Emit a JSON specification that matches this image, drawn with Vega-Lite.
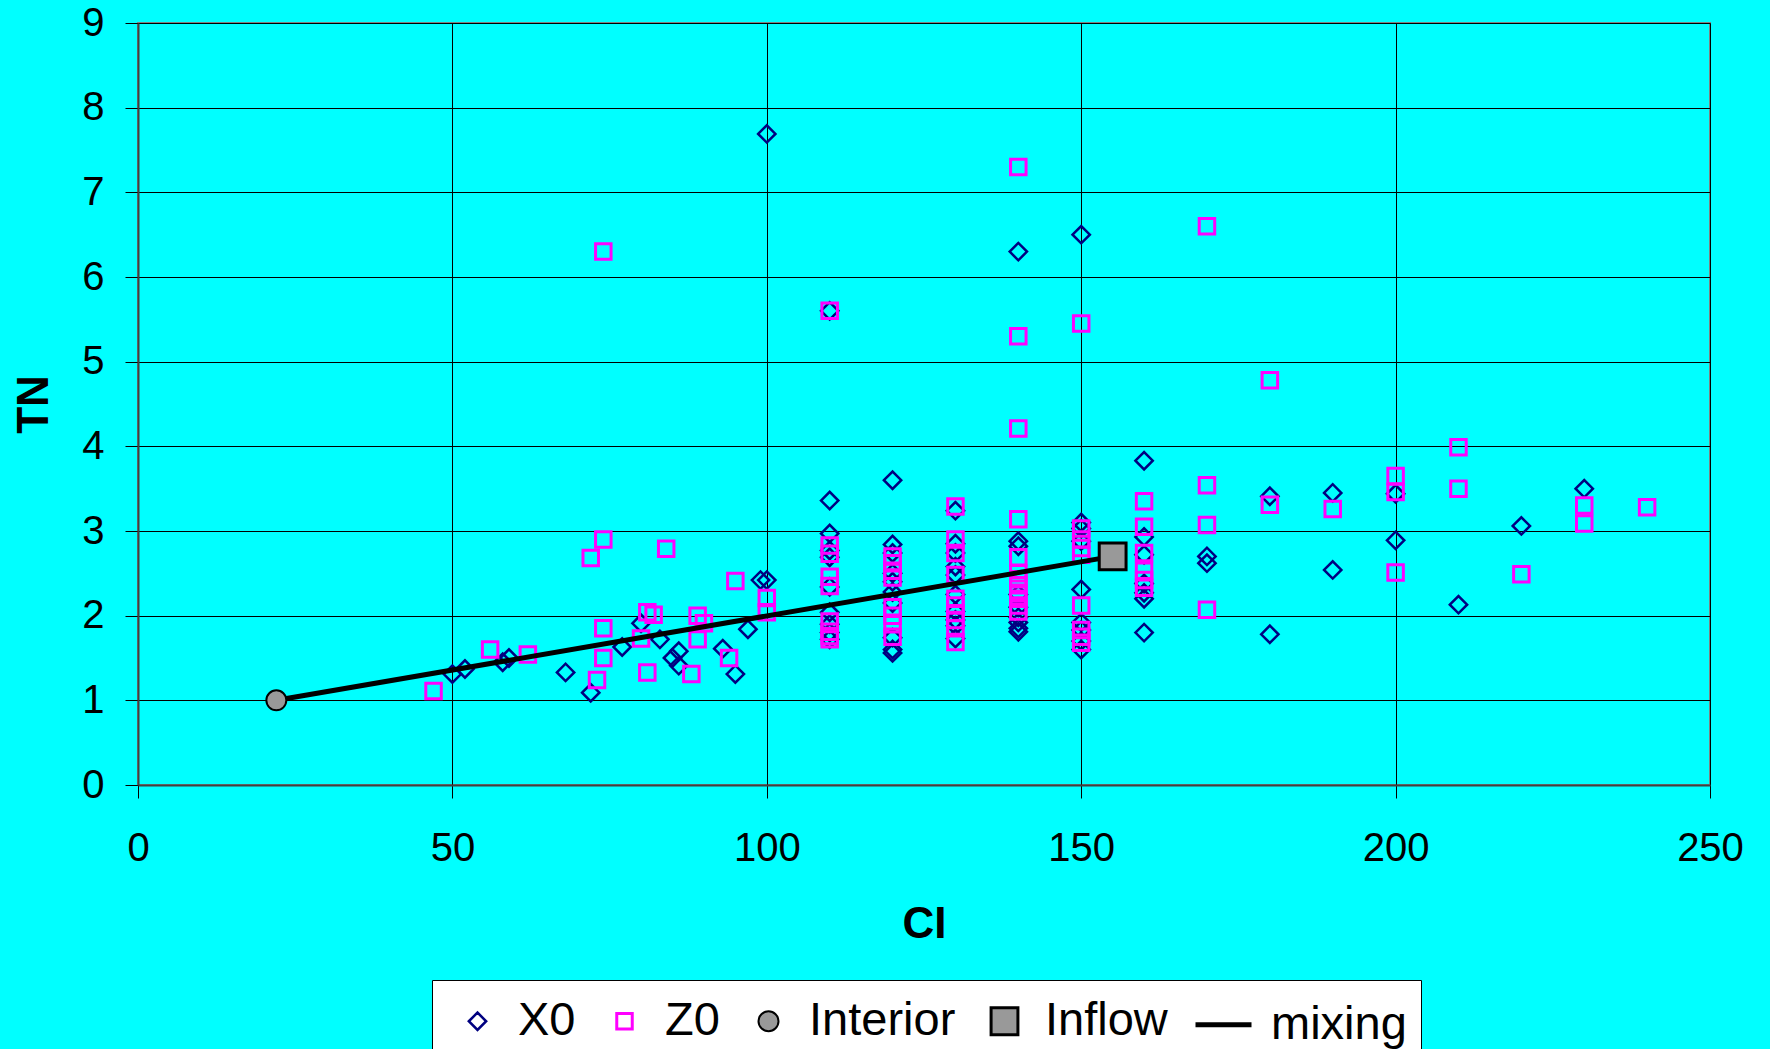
{
  "$schema": "https://vega.github.io/schema/vega-lite/v6.json",
  "autosize": {"type": "none"},
  "padding": {"left": 138, "top": 23, "right": 60, "bottom": 264},
  "width": 1572,
  "height": 762,
  "background": "#00FFFF",
  "config": {
    "font": "Liberation Sans",
    "view": {"fill": "#00FFFF", "stroke": "#808080", "strokeWidth": 2},
    "axis": {
      "grid": true, "gridColor": "black", "gridWidth": 1, "gridOpacity": 1,
      "tickColor": "black", "tickSize": 13, "tickWidth": 1,
      "domainColor": "#404040", "domainWidth": 2,
      "labelFlush": false, "labelOverlap": false, "labelBound": false,
      "labelFont": "Liberation Sans", "labelFontSize": 40, "labelColor": "black",
      "titleFont": "Liberation Sans", "titleFontSize": 44, "titleFontWeight": "bold", "titleColor": "black"
    }
  },
  "data": {"values": [
    {"x": 50, "y": 1.31, "series": "X0"}, {"x": 52, "y": 1.37, "series": "X0"}, {"x": 58, "y": 1.45, "series": "X0"}, {"x": 59, "y": 1.5, "series": "X0"},
    {"x": 68, "y": 1.33, "series": "X0"}, {"x": 72, "y": 1.09, "series": "X0"}, {"x": 77, "y": 1.63, "series": "X0"}, {"x": 80, "y": 1.91, "series": "X0"},
    {"x": 83, "y": 1.72, "series": "X0"}, {"x": 85, "y": 1.5, "series": "X0"}, {"x": 86, "y": 1.58, "series": "X0"}, {"x": 86, "y": 1.41, "series": "X0"},
    {"x": 93, "y": 1.61, "series": "X0"}, {"x": 95, "y": 1.31, "series": "X0"}, {"x": 97, "y": 1.84, "series": "X0"}, {"x": 99, "y": 2.42, "series": "X0"},
    {"x": 100, "y": 2.42, "series": "X0"}, {"x": 100, "y": 7.69, "series": "X0"},
    {"x": 110, "y": 5.6, "series": "X0"}, {"x": 110, "y": 3.36, "series": "X0"}, {"x": 110, "y": 2.97, "series": "X0"}, {"x": 110, "y": 2.77, "series": "X0"},
    {"x": 110, "y": 2.69, "series": "X0"}, {"x": 110, "y": 2.34, "series": "X0"}, {"x": 110, "y": 2.04, "series": "X0"}, {"x": 110, "y": 1.9, "series": "X0"},
    {"x": 110, "y": 1.8, "series": "X0"}, {"x": 110, "y": 1.72, "series": "X0"},
    {"x": 120, "y": 3.6, "series": "X0"}, {"x": 120, "y": 2.84, "series": "X0"}, {"x": 120, "y": 2.74, "series": "X0"}, {"x": 120, "y": 2.5, "series": "X0"},
    {"x": 120, "y": 2.4, "series": "X0"}, {"x": 120, "y": 2.28, "series": "X0"}, {"x": 120, "y": 2.15, "series": "X0"}, {"x": 120, "y": 1.74, "series": "X0"},
    {"x": 120, "y": 1.6, "series": "X0"}, {"x": 120, "y": 1.56, "series": "X0"},
    {"x": 130, "y": 3.24, "series": "X0"}, {"x": 130, "y": 2.85, "series": "X0"}, {"x": 130, "y": 2.74, "series": "X0"}, {"x": 130, "y": 2.58, "series": "X0"},
    {"x": 130, "y": 2.48, "series": "X0"}, {"x": 130, "y": 2.25, "series": "X0"}, {"x": 130, "y": 2.05, "series": "X0"}, {"x": 130, "y": 1.95, "series": "X0"},
    {"x": 130, "y": 1.88, "series": "X0"}, {"x": 130, "y": 1.73, "series": "X0"},
    {"x": 140, "y": 6.3, "series": "X0"}, {"x": 140, "y": 2.88, "series": "X0"}, {"x": 140, "y": 2.82, "series": "X0"}, {"x": 140, "y": 2.25, "series": "X0"},
    {"x": 140, "y": 2.1, "series": "X0"}, {"x": 140, "y": 1.98, "series": "X0"}, {"x": 140, "y": 1.92, "series": "X0"}, {"x": 140, "y": 1.85, "series": "X0"},
    {"x": 140, "y": 1.81, "series": "X0"},
    {"x": 150, "y": 6.5, "series": "X0"}, {"x": 150, "y": 3.1, "series": "X0"}, {"x": 150, "y": 3.03, "series": "X0"}, {"x": 150, "y": 2.88, "series": "X0"},
    {"x": 150, "y": 2.31, "series": "X0"}, {"x": 150, "y": 1.92, "series": "X0"}, {"x": 150, "y": 1.83, "series": "X0"}, {"x": 150, "y": 1.7, "series": "X0"},
    {"x": 150, "y": 1.6, "series": "X0"},
    {"x": 160, "y": 3.83, "series": "X0"}, {"x": 160, "y": 2.93, "series": "X0"}, {"x": 160, "y": 2.72, "series": "X0"}, {"x": 160, "y": 2.38, "series": "X0"},
    {"x": 160, "y": 2.27, "series": "X0"}, {"x": 160, "y": 2.2, "series": "X0"}, {"x": 160, "y": 1.8, "series": "X0"},
    {"x": 170, "y": 2.7, "series": "X0"}, {"x": 170, "y": 2.62, "series": "X0"}, {"x": 180, "y": 3.41, "series": "X0"}, {"x": 180, "y": 1.78, "series": "X0"},
    {"x": 190, "y": 3.45, "series": "X0"}, {"x": 190, "y": 2.54, "series": "X0"}, {"x": 200, "y": 3.44, "series": "X0"}, {"x": 200, "y": 2.89, "series": "X0"},
    {"x": 210, "y": 2.13, "series": "X0"}, {"x": 220, "y": 3.06, "series": "X0"}, {"x": 230, "y": 3.5, "series": "X0"},

    {"x": 47, "y": 1.11, "series": "Z0"}, {"x": 56, "y": 1.6, "series": "Z0"}, {"x": 62, "y": 1.54, "series": "Z0"}, {"x": 72, "y": 2.68, "series": "Z0"},
    {"x": 73, "y": 1.24, "series": "Z0"}, {"x": 74, "y": 6.3, "series": "Z0"}, {"x": 74, "y": 2.9, "series": "Z0"}, {"x": 74, "y": 1.85, "series": "Z0"},
    {"x": 74, "y": 1.5, "series": "Z0"}, {"x": 80, "y": 1.73, "series": "Z0"}, {"x": 81, "y": 2.04, "series": "Z0"}, {"x": 81, "y": 1.33, "series": "Z0"},
    {"x": 82, "y": 2.01, "series": "Z0"}, {"x": 84, "y": 2.79, "series": "Z0"}, {"x": 88, "y": 1.31, "series": "Z0"}, {"x": 89, "y": 2.0, "series": "Z0"},
    {"x": 89, "y": 1.72, "series": "Z0"}, {"x": 90, "y": 1.91, "series": "Z0"}, {"x": 94, "y": 1.5, "series": "Z0"}, {"x": 95, "y": 2.41, "series": "Z0"},
    {"x": 100, "y": 2.21, "series": "Z0"}, {"x": 100, "y": 2.04, "series": "Z0"},
    {"x": 110, "y": 5.6, "series": "Z0"}, {"x": 110, "y": 2.83, "series": "Z0"}, {"x": 110, "y": 2.73, "series": "Z0"}, {"x": 110, "y": 2.46, "series": "Z0"},
    {"x": 110, "y": 2.35, "series": "Z0"}, {"x": 110, "y": 1.93, "series": "Z0"}, {"x": 110, "y": 1.81, "series": "Z0"}, {"x": 110, "y": 1.76, "series": "Z0"},
    {"x": 110, "y": 1.72, "series": "Z0"},
    {"x": 120, "y": 2.7, "series": "Z0"}, {"x": 120, "y": 2.62, "series": "Z0"}, {"x": 120, "y": 2.53, "series": "Z0"}, {"x": 120, "y": 2.45, "series": "Z0"},
    {"x": 120, "y": 2.1, "series": "Z0"}, {"x": 120, "y": 2.0, "series": "Z0"}, {"x": 120, "y": 1.9, "series": "Z0"}, {"x": 120, "y": 1.75, "series": "Z0"},
    {"x": 130, "y": 3.29, "series": "Z0"}, {"x": 130, "y": 2.9, "series": "Z0"}, {"x": 130, "y": 2.74, "series": "Z0"}, {"x": 130, "y": 2.48, "series": "Z0"},
    {"x": 130, "y": 2.2, "series": "Z0"}, {"x": 130, "y": 2.12, "series": "Z0"}, {"x": 130, "y": 2.03, "series": "Z0"}, {"x": 130, "y": 1.95, "series": "Z0"},
    {"x": 130, "y": 1.85, "series": "Z0"}, {"x": 130, "y": 1.69, "series": "Z0"},
    {"x": 140, "y": 7.3, "series": "Z0"}, {"x": 140, "y": 5.3, "series": "Z0"}, {"x": 140, "y": 4.21, "series": "Z0"}, {"x": 140, "y": 3.14, "series": "Z0"},
    {"x": 140, "y": 2.69, "series": "Z0"}, {"x": 140, "y": 2.5, "series": "Z0"}, {"x": 140, "y": 2.43, "series": "Z0"}, {"x": 140, "y": 2.36, "series": "Z0"},
    {"x": 140, "y": 2.27, "series": "Z0"}, {"x": 140, "y": 2.2, "series": "Z0"}, {"x": 140, "y": 2.12, "series": "Z0"}, {"x": 140, "y": 2.05, "series": "Z0"},
    {"x": 150, "y": 5.45, "series": "Z0"}, {"x": 150, "y": 3.03, "series": "Z0"}, {"x": 150, "y": 2.9, "series": "Z0"}, {"x": 150, "y": 2.8, "series": "Z0"},
    {"x": 150, "y": 2.72, "series": "Z0"}, {"x": 150, "y": 2.12, "series": "Z0"}, {"x": 150, "y": 1.83, "series": "Z0"}, {"x": 150, "y": 1.75, "series": "Z0"},
    {"x": 150, "y": 1.68, "series": "Z0"},
    {"x": 160, "y": 3.35, "series": "Z0"}, {"x": 160, "y": 3.05, "series": "Z0"}, {"x": 160, "y": 2.74, "series": "Z0"}, {"x": 160, "y": 2.53, "series": "Z0"},
    {"x": 160, "y": 2.42, "series": "Z0"}, {"x": 160, "y": 2.33, "series": "Z0"},
    {"x": 170, "y": 6.6, "series": "Z0"}, {"x": 170, "y": 3.54, "series": "Z0"}, {"x": 170, "y": 3.07, "series": "Z0"}, {"x": 170, "y": 2.07, "series": "Z0"},
    {"x": 180, "y": 4.78, "series": "Z0"}, {"x": 180, "y": 3.31, "series": "Z0"}, {"x": 190, "y": 3.26, "series": "Z0"},
    {"x": 200, "y": 3.65, "series": "Z0"}, {"x": 200, "y": 3.46, "series": "Z0"}, {"x": 200, "y": 2.51, "series": "Z0"},
    {"x": 210, "y": 3.99, "series": "Z0"}, {"x": 210, "y": 3.5, "series": "Z0"}, {"x": 220, "y": 2.49, "series": "Z0"},
    {"x": 230, "y": 3.3, "series": "Z0"}, {"x": 230, "y": 3.09, "series": "Z0"}, {"x": 240, "y": 3.28, "series": "Z0"},

    {"x": 22, "y": 1.0, "series": "Interior"},
    {"x": 155, "y": 2.7, "series": "Inflow"},
    {"x": 22, "y": 1.0, "series": "mixing"},
    {"x": 155, "y": 2.7, "series": "mixing"}
  ]},
  "encoding": {
    "x": {"field": "x", "type": "quantitative",
      "scale": {"domain": [0, 250], "nice": false, "zero": false},
      "axis": {"values": [0, 50, 100, 150, 200, 250], "title": "CI", "labelPadding": 30,
        "titleX": 786, "titleY": 139, "titleBaseline": "middle", "titleAnchor": "middle"}},
    "y": {"field": "y", "type": "quantitative",
      "scale": {"domain": [0, 9], "nice": false, "zero": false},
      "axis": {"values": [0, 1, 2, 3, 4, 5, 6, 7, 8, 9], "title": "TN", "labelPadding": 21,
        "titleX": -104, "titleY": 381, "titleAngle": -90, "titleBaseline": "middle", "titleAlign": "center"}}
  },
  "layer": [
    {
      "transform": [{"filter": "datum.series === 'X0' || datum.series === 'Z0'"}],
      "mark": {"type": "point", "opacity": 1},
      "encoding": {
        "shape": {"field": "series", "type": "nominal",
          "scale": {"domain": ["X0", "Z0", "Interior", "Inflow", "mixing"], "range": ["diamond", "square", "circle", "square", "stroke"]},
          "legend": {"title": null, "orient": "none", "legendX": 294, "legendY": 957, "direction": "horizontal",
            "fillColor": "white", "strokeColor": "black", "padding": 14, "labelFontSize": 47, "labelFont": "Liberation Sans",
            "labelColor": "black", "columnPadding": 17, "labelOffset": 17, "symbolOffset": 8, "symbolOpacity": 1}},
        "stroke": {"field": "series", "type": "nominal",
          "scale": {"domain": ["X0", "Z0", "Interior", "Inflow", "mixing"], "range": ["#000080", "#FF00FF", "black", "black", "black"]},
          "legend": {"title": null}},
        "fill": {"field": "series", "type": "nominal",
          "scale": {"domain": ["X0", "Z0", "Interior", "Inflow", "mixing"], "range": ["transparent", "transparent", "#999999", "#999999", "transparent"]},
          "legend": {"title": null}},
        "size": {"field": "series", "type": "nominal",
          "scale": {"type": "ordinal", "domain": ["X0", "Z0", "Interior", "Inflow", "mixing"], "range": [300, 240, 400, 720, 3136]},
          "legend": {"title": null}},
        "strokeWidth": {"field": "series", "type": "nominal",
          "scale": {"type": "ordinal", "domain": ["X0", "Z0", "Interior", "Inflow", "mixing"], "range": [2.5, 3, 2, 3, 5]},
          "legend": {"title": null}}
      }
    },
    {
      "transform": [{"filter": "datum.series === 'mixing'"}],
      "mark": {"type": "line"},
      "encoding": {
        "stroke": {"field": "series", "type": "nominal",
          "scale": {"domain": ["X0", "Z0", "Interior", "Inflow", "mixing"], "range": ["#000080", "#FF00FF", "black", "black", "black"]},
          "legend": {"title": null}},
        "strokeWidth": {"field": "series", "type": "nominal",
          "scale": {"type": "ordinal", "domain": ["X0", "Z0", "Interior", "Inflow", "mixing"], "range": [2.5, 3, 2, 3, 5]},
          "legend": {"title": null}}
      }
    },
    {
      "transform": [{"filter": "datum.series === 'Interior' || datum.series === 'Inflow'"}],
      "mark": {"type": "point", "opacity": 1},
      "encoding": {
        "shape": {"field": "series", "type": "nominal",
          "scale": {"domain": ["X0", "Z0", "Interior", "Inflow", "mixing"], "range": ["diamond", "square", "circle", "square", "stroke"]},
          "legend": {"title": null}},
        "stroke": {"field": "series", "type": "nominal",
          "scale": {"domain": ["X0", "Z0", "Interior", "Inflow", "mixing"], "range": ["#000080", "#FF00FF", "black", "black", "black"]},
          "legend": {"title": null}},
        "fill": {"field": "series", "type": "nominal",
          "scale": {"domain": ["X0", "Z0", "Interior", "Inflow", "mixing"], "range": ["transparent", "transparent", "#999999", "#999999", "transparent"]},
          "legend": {"title": null}},
        "size": {"field": "series", "type": "nominal",
          "scale": {"type": "ordinal", "domain": ["X0", "Z0", "Interior", "Inflow", "mixing"], "range": [300, 240, 400, 720, 3136]},
          "legend": {"title": null}},
        "strokeWidth": {"field": "series", "type": "nominal",
          "scale": {"type": "ordinal", "domain": ["X0", "Z0", "Interior", "Inflow", "mixing"], "range": [2.5, 3, 2, 3, 5]},
          "legend": {"title": null}}
      }
    }
  ]
}
